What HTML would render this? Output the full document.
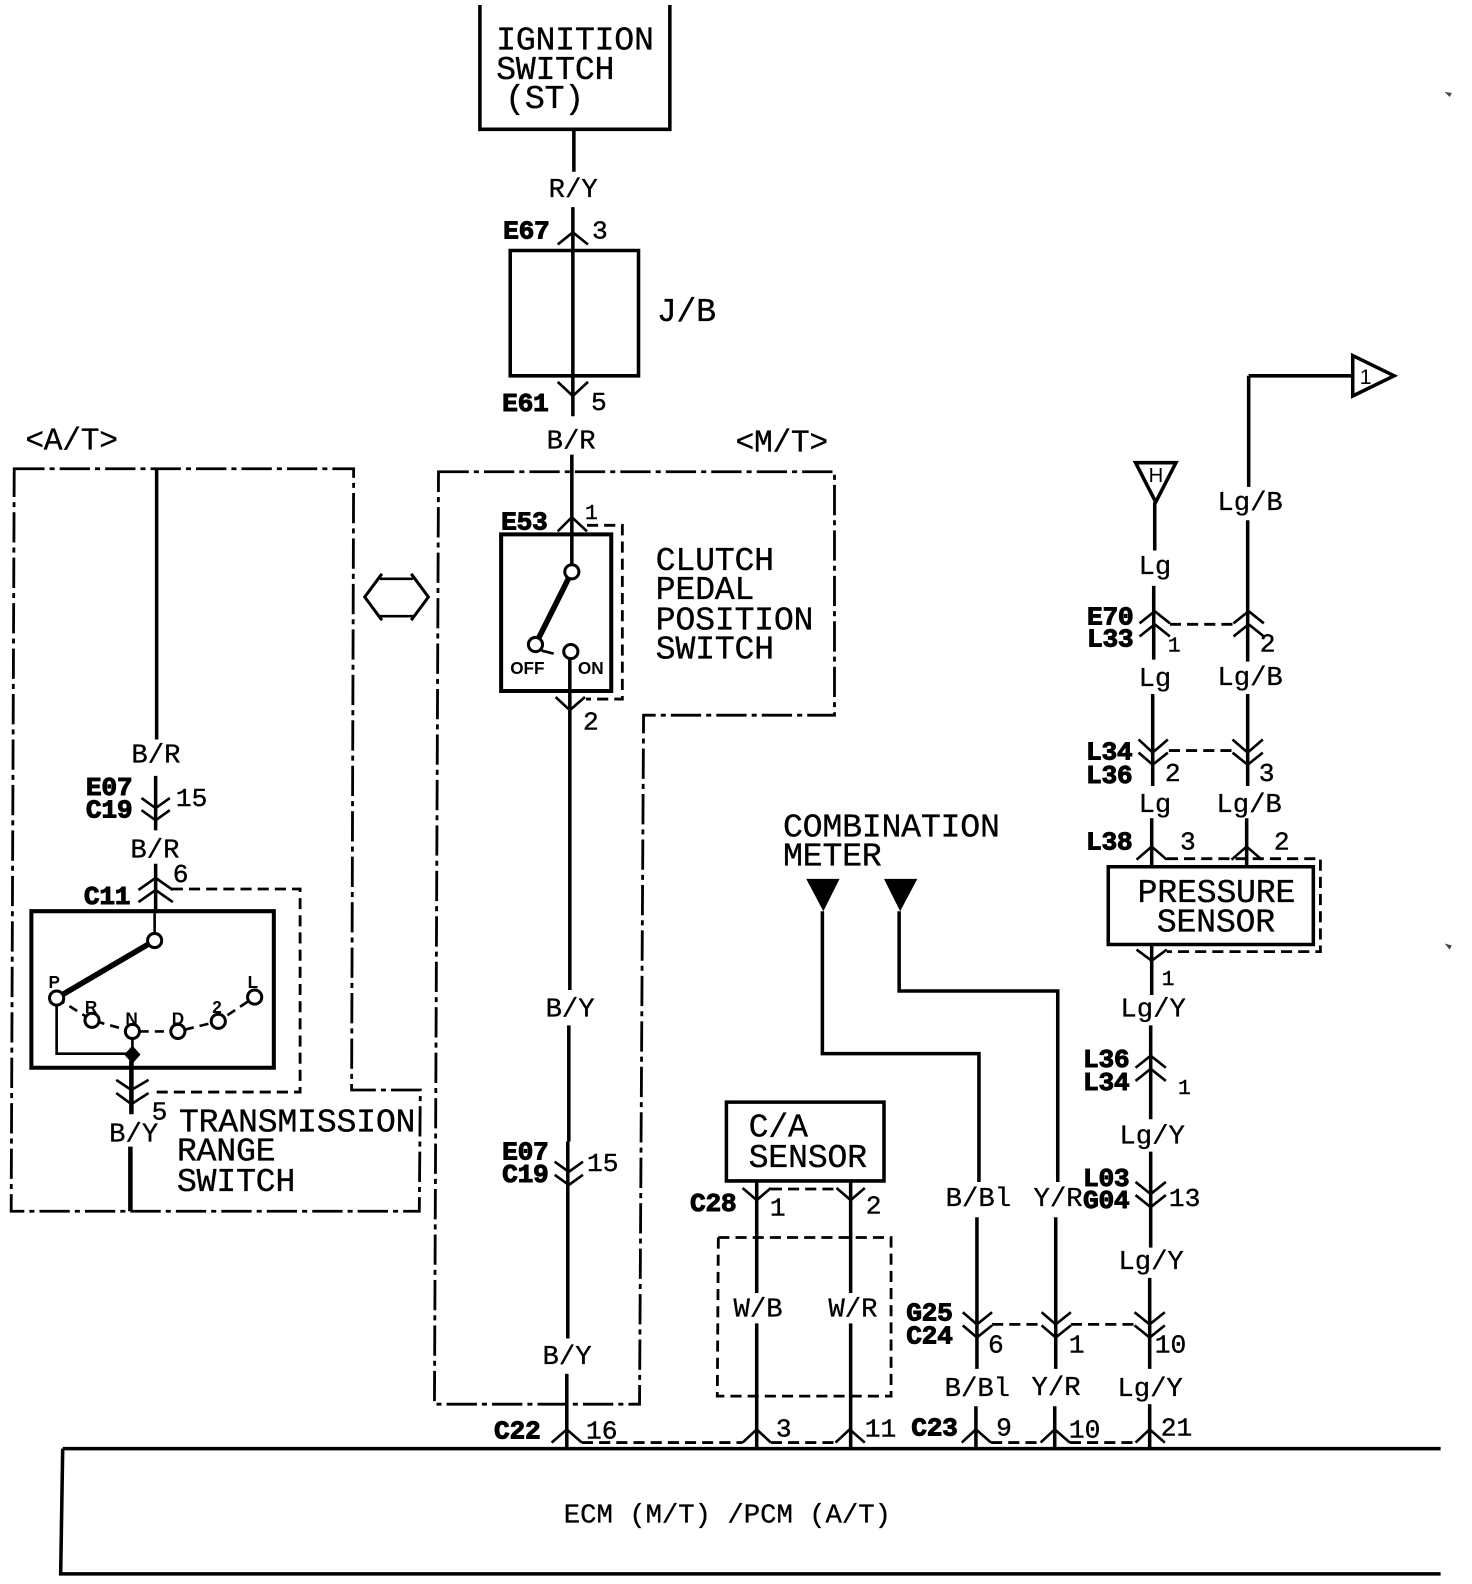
<!DOCTYPE html>
<html><head><meta charset="utf-8"><style>
html,body{margin:0;padding:0;background:#fff}
svg{display:block}
text{fill:#000;white-space:pre}
.t{font:33px "Liberation Mono",monospace;letter-spacing:-.3px;stroke:#000;stroke-width:.3px}
.s{font:27px "Liberation Mono",monospace;letter-spacing:0;stroke:#000;stroke-width:.3px}
.n{font:26px "Liberation Mono",monospace;stroke:#000;stroke-width:.4px}
.b{font:bold 26px "Liberation Mono",monospace;letter-spacing:-.3px;stroke:#000;stroke-width:1px}
.m{font:bold 17px "Liberation Sans",sans-serif}
.w{fill:none;stroke:#000;stroke-width:3.5}
.c{fill:none;stroke:#000;stroke-width:2.6}
.d{fill:none;stroke:#000;stroke-width:2.8;stroke-dasharray:11 6}
.l{fill:none;stroke:#000;stroke-width:2.8;stroke-dasharray:30 5 5 5}
.o{fill:#fff;stroke:#000;stroke-width:3}
</style></head><body>
<svg xmlns="http://www.w3.org/2000/svg" width="1472" height="1584" viewBox="0 0 1457 1568">
<rect width="1457" height="1568" fill="#fff"/>

<!-- boxes -->
<path class="w" d="M475,5V128H663V5"/>
<path class="w" d="M505,248H632V372H505Z"/>
<path class="w" d="M62,1434H1426M62,1434L60,1558H1426"/>
<path class="w" d="M496,529H605V684H496Z" style="stroke-width:4"/>
<path class="w" d="M31,902H271V1057H31Z" style="stroke-width:4"/>
<path class="w" d="M719,1091H875V1169H719Z"/>
<path class="w" d="M1097,858H1300V935H1097Z"/>

<!-- boundaries -->
<path class="l" d="M14,464H350L348,1079H416L415,1199H11Z"/>
<path class="l" d="M434,467H826V708H637L633,1390H430Z"/>
<path class="d" d="M170,880H297V1081H150"/>
<path class="d" d="M581,520H616V692H580"/>
<path class="d" d="M711,1225H882V1382H710Z"/>
<path class="d" d="M763,1177H828"/>
<path class="d" d="M576,1428H735M763,1428H827"/>
<path class="d" d="M981,1428H1030M1059,1428H1124"/>
<path class="d" d="M1158,618H1220M1157,743H1220M1155,850H1307V942H1155"/>
<path class="d" d="M982,1311H1030M1060,1311H1123"/>

<!-- wires -->
<path class="w" d="M568,128V170M567,205V412M566,450V566M564,645V980M563,1015V1130M562,1130V1325M561,1360V1434"/>
<path class="w" d="M155,464V732M154,768V822M154,855V904"/>
<path class="c" d="M153,904V925"/>
<path class="w" d="M130,1050V1103M129,1135V1199" style="stroke-width:4.5"/>
<path class="w" d="M814,902V1043H969V1170M890,902V981H1047V1170"/>
<path class="w" d="M967,1205V1355M1045,1205V1355M966,1392V1434M1044,1392V1434M1138,1390V1434"/>
<path class="w" d="M749,1169V1280M749,1310V1434M842,1169V1280M842,1310V1434"/>
<path class="w" d="M1143,497V545M1142,580V653M1236,372V482M1236,372H1339M1235,515V655M1141,687V778M1235,687V778M1140,810V858M1234,810V858M1140,935V985M1139,1015V1108M1139,1140V1235M1138,1265V1355"/>

<!-- connectors -->
<path class="c" d="M552,242L567,230L582,242M552,378L567,392L582,378M552,526L566,512L581,526M550,690L564,703L579,690"/>
<path class="c" d="M140,790L154,800L168,790M140,802L154,812L168,802M137,881L154,869L171,881M137,893L154,881L171,893"/>
<path class="c" d="M115,1069L130,1079L147,1069M115,1082L130,1093L147,1082"/>
<path class="c" d="M549,1150L563,1160L577,1150M549,1163L563,1173L577,1163"/>
<path class="c" d="M546,1428L561,1415L576,1428M735,1428L749,1415L763,1428M827,1428L841,1415L856,1428M952,1428L966,1415L981,1428M1030,1428L1044,1415L1059,1428M1124,1428L1138,1415L1153,1428"/>
<path class="c" d="M735,1176L749,1188L763,1176M828,1176L842,1188L856,1176"/>
<path class="c" d="M953,1299L967,1311L982,1299M953,1312L967,1324L982,1312M1031,1299L1045,1311L1060,1299M1031,1312L1045,1324L1060,1312M1123,1299L1138,1311L1153,1299M1123,1312L1138,1324L1153,1312"/>
<path class="c" d="M1128,617L1143,605L1158,617M1128,630L1143,618L1158,630M1221,617L1236,605L1251,617M1221,630L1236,618L1251,630"/>
<path class="c" d="M1127,732L1141,745L1156,732M1127,745L1141,757L1156,745M1220,732L1235,745L1250,732M1220,745L1235,757L1250,745"/>
<path class="c" d="M1125,851L1140,838L1155,851M1219,851L1234,838L1249,851"/>
<path class="c" d="M1125,940L1140,951L1155,940"/>
<path class="c" d="M1124,1057L1139,1045L1154,1057M1124,1070L1139,1058L1154,1070"/>
<path class="c" d="M1124,1170L1139,1182L1154,1170M1124,1183L1139,1195L1154,1183"/>

<!-- clutch switch -->
<path class="w" d="M566,566L530,638" style="stroke-width:5.5"/>
<path class="c" d="M536,644L548,647"/>
<circle class="o" cx="566" cy="566" r="7"/><circle class="o" cx="530" cy="638" r="7"/><circle class="o" cx="565" cy="645" r="7"/>

<!-- range switch -->
<path class="w" d="M153,931L56,988" style="stroke-width:5.5"/>
<path class="c" stroke-dasharray="9 6" d="M56,988L91,1010L131,1021H176L216,1011L252,987"/>
<path class="c" d="M56,995V1043H131V1021"/>
<path d="M131,1035L139,1044L131,1053L123,1044Z" fill="#000"/>
<circle class="o" cx="153" cy="931" r="7"/><circle class="o" cx="56" cy="988" r="7"/><circle class="o" cx="91" cy="1010" r="7"/><circle class="o" cx="131" cy="1021" r="7"/><circle class="o" cx="176" cy="1021" r="7"/><circle class="o" cx="216" cy="1011" r="7"/><circle class="o" cx="252" cy="987" r="7"/>

<!-- symbols -->
<path class="c" style="stroke-width:3" d="M378,568L361,591L378,614M407,568L424,591L407,614"/>
<path class="c" d="M376,573H409M376,610H409"/>
<path d="M798,870H831L815,902Z M875,870H908L891,902Z" fill="#000"/>
<path class="w" d="M1124,458H1164L1144,497Z"/>
<path class="w" d="M1339,352L1380,372L1339,392Z"/>
<path d="M1430,91l7,1l-2,4Z M1430,934l7,2l-2,4Z" fill="#444"/>

<!-- labels -->
<text class="t" x="491" y="49">IGNITION</text><text class="t" x="491" y="78">SWITCH</text><text class="t" x="500" y="107">(ST)</text>
<text class="s" x="543" y="195">R/Y</text><text class="b" x="498" y="236">E67</text><text class="n" x="586" y="236">3</text>
<text class="t" x="650" y="318">J/B</text><text class="b" x="497" y="407">E61</text><text class="n" x="585" y="406">5</text>
<text class="s" x="541" y="444">B/R</text><text class="t" style="font-size:31px" x="25" y="445">&lt;A/T&gt;</text><text class="t" style="font-size:31px" x="728" y="447">&lt;M/T&gt;</text>
<text class="b" x="496" y="524">E53</text><text class="n" x="579" y="514" style="font-size:21px">1</text>
<text class="t" x="649" y="564">CLUTCH</text><text class="t" x="649" y="593">PEDAL</text><text class="t" x="649" y="623">POSITION</text><text class="t" x="649" y="652">SWITCH</text>
<text class="m" x="505" y="667">OFF</text><text class="m" x="572" y="667">ON</text>
<text class="n" x="577" y="722">2</text><text class="s" x="540" y="1006">B/Y</text>
<text class="b" x="497" y="1148">E07</text><text class="b" x="497" y="1170">C19</text><text class="n" x="581" y="1159">15</text>
<text class="s" x="537" y="1350">B/Y</text><text class="b" x="489" y="1424">C22</text><text class="n" x="580" y="1424">16</text>
<text class="n" x="768" y="1422">3</text><text class="n" x="856" y="1422">11</text><text class="b" x="902" y="1421">C23</text><text class="n" x="986" y="1421">9</text><text class="n" x="1058" y="1423">10</text><text class="n" x="1149" y="1421">21</text>
<text class="s" x="558" y="1507">ECM (M/T) /PCM (A/T)</text>

<text class="s" x="130" y="755">B/R</text><text class="b" x="85" y="787">E07</text><text class="b" x="85" y="809">C19</text><text class="n" x="174" y="798">15</text>
<text class="s" x="129" y="849">B/R</text><text class="n" x="171" y="873">6</text><text class="b" x="83" y="895">C11</text>
<text class="n" x="150" y="1108">5</text><text class="s" x="108" y="1130">B/Y</text>
<text class="t" x="177" y="1120">TRANSMISSION</text><text class="t" x="175" y="1149">RANGE</text><text class="t" x="175" y="1179">SWITCH</text>
<text class="m" x="48" y="978">P</text><text class="m" x="84" y="1003">R</text><text class="m" x="124" y="1014">N</text><text class="m" x="170" y="1014">D</text><text class="m" x="210" y="1003">2</text><text class="m" x="245" y="978">L</text>

<text class="t" x="775" y="828">COMBINATION</text><text class="t" x="775" y="857">METER</text>
<text class="t" x="741" y="1125">C/A</text><text class="t" x="741" y="1155">SENSOR</text>
<text class="b" x="683" y="1199">C28</text><text class="n" x="762" y="1203">1</text><text class="n" x="857" y="1201">2</text>
<text class="s" x="726" y="1303">W/B</text><text class="s" x="820" y="1303">W/R</text>
<text class="s" x="936" y="1194">B/Bl</text><text class="s" x="1023" y="1194">Y/R</text>
<text class="b" x="897" y="1307">G25</text><text class="b" x="897" y="1330">C24</text><text class="n" x="978" y="1339">6</text><text class="n" x="1058" y="1339">1</text><text class="n" x="1143" y="1339">10</text>
<text class="s" x="935" y="1382">B/Bl</text><text class="s" x="1021" y="1381">Y/R</text><text class="s" x="1106" y="1382">Lg/Y</text>
<text class="b" x="1072" y="1174">L03</text><text class="b" x="1072" y="1196">G04</text><text class="n" x="1157" y="1194">13</text>
<text class="s" x="1107" y="1256">Lg/Y</text><text class="s" x="1108" y="1132">Lg/Y</text>
<text class="b" x="1072" y="1056">L36</text><text class="b" x="1072" y="1079">L34</text><text class="n" x="1166" y="1083" style="font-size:21px">1</text>
<text class="s" x="1109" y="1006">Lg/Y</text><text class="n" x="1150" y="975" style="font-size:21px">1</text>
<text class="t" x="1126" y="893">PRESSURE</text><text class="t" x="1145" y="922">SENSOR</text>
<text class="b" x="1075" y="841">L38</text><text class="n" x="1168" y="841">3</text><text class="n" x="1261" y="841">2</text>
<text class="s" x="1127" y="804">Lg</text><text class="s" x="1204" y="804">Lg/B</text>
<text class="b" x="1075" y="752">L34</text><text class="b" x="1075" y="775">L36</text><text class="n" x="1153" y="773">2</text><text class="n" x="1246" y="773">3</text>
<text class="s" x="1127" y="679">Lg</text><text class="s" x="1205" y="678">Lg/B</text>
<text class="b" x="1076" y="618">E70</text><text class="b" x="1076" y="640">L33</text><text class="n" x="1156" y="645" style="font-size:21px">1</text><text class="n" x="1247" y="645">2</text>
<text class="s" x="1127" y="568">Lg</text><text class="s" x="1205" y="505">Lg/B</text>
<text class="m" x="1137" y="477" style="font-weight:normal;font-size:20px">H</text>
<text class="m" x="1346" y="380" style="font-size:21px;font-weight:normal">1</text>
</svg>
</body></html>
